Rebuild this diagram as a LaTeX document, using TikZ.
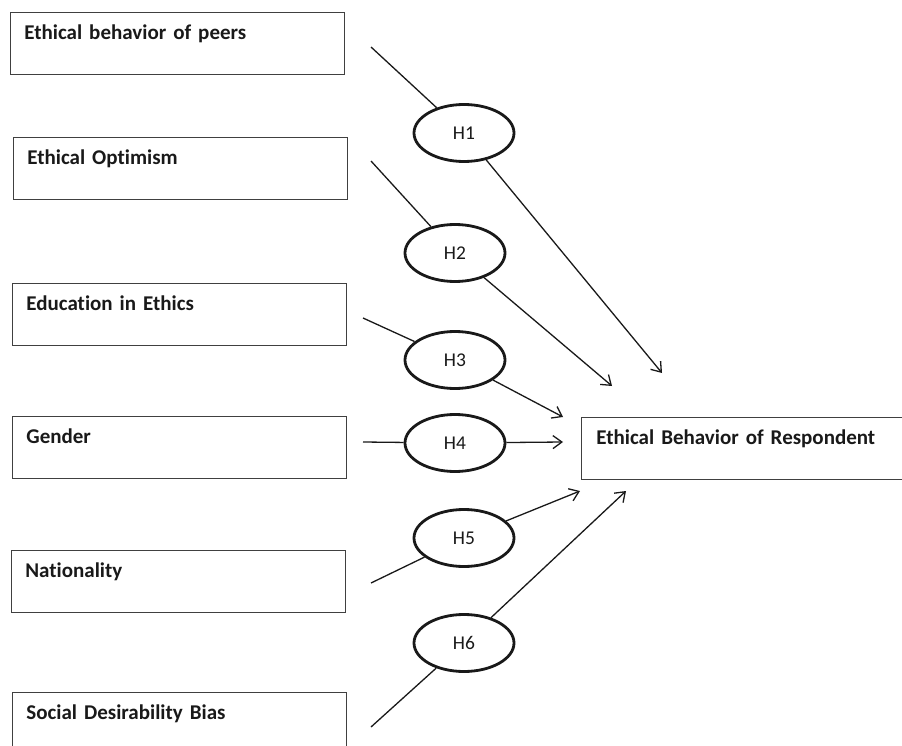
\documentclass[tikz,border=0pt]{standalone}
\usepackage{fontspec}
\setmainfont[Ligatures=NoCommon]{Carlito}
\usepackage{tikz}
\usetikzlibrary{arrows.meta,shapes.geometric}

\begin{document}
\begin{tikzpicture}[x=1pt, y=-1pt,
		factor/.style={draw=black!75, line width=0.8pt, anchor=north west, inner xsep=14pt, inner ysep=14pt,
			text width=306pt, text height=13pt, text depth=21pt, align=left, text=black!90,
			font=\bfseries\fontsize{21}{22}\selectfont},
		hyp/.style={ellipse, draw=black!90, line width=2.8pt, minimum width=100pt, minimum height=57pt,
			inner sep=0pt, text=black!90, font=\fontsize{19.5}{20}\selectfont},
		link/.style={draw=black!90, line width=1.3pt},
		arr/.style={link, -{Straight Barb[length=9pt,width=13pt]}}]
			\useasboundingbox (0,0) rectangle (902,746);
			\clip (0,0) rectangle (902,746);
			\node[factor] (peers) at (10,12) {Ethical behavior of peers};
			\node[factor] (optim) at (13,137) {Ethical Optimism};
			\node[factor] (educ) at (12,283) {Education in Ethics};
			\node[factor] (gender) at (12,416) {Gender};
			\node[factor] (nation) at (11,550) {Nationality};
			\node[factor] (social) at (12,692) {Social Desirability Bias};
			\node[factor, inner xsep=15pt, text width=320pt] (resp) at (581,417) {Ethical Behavior of Respondent};
			\node[hyp] (h1) at (464,133) {H1};
			\node[hyp] (h2) at (455,253) {H2};
			\node[hyp] (h3) at (455,360) {H3};
			\node[hyp] (h4) at (455,443) {H4};
			\node[hyp] (h5) at (464,538) {H5};
			\node[hyp] (h6) at (464,643) {H6};
			\coordinate (s1) at (371,47);   \coordinate (t1) at (662,373);
			\coordinate (s2) at (371,161);  \coordinate (t2) at (612,386);
			\coordinate (s3) at (363,318);  \coordinate (t3) at (563,417);
			\coordinate (s4) at (363,442);  \coordinate (t4) at (563,442);
			\coordinate (s5) at (371,583);  \coordinate (t5) at (580,491);
			\coordinate (s6) at (371,727);  \coordinate (t6) at (626,491);
			\foreach \i in {1,...,6} {
				\draw[link] (s\i) -- (h\i);
				\draw[arr] (h\i) -- (t\i);
			}
		\end{tikzpicture}
\end{document}
